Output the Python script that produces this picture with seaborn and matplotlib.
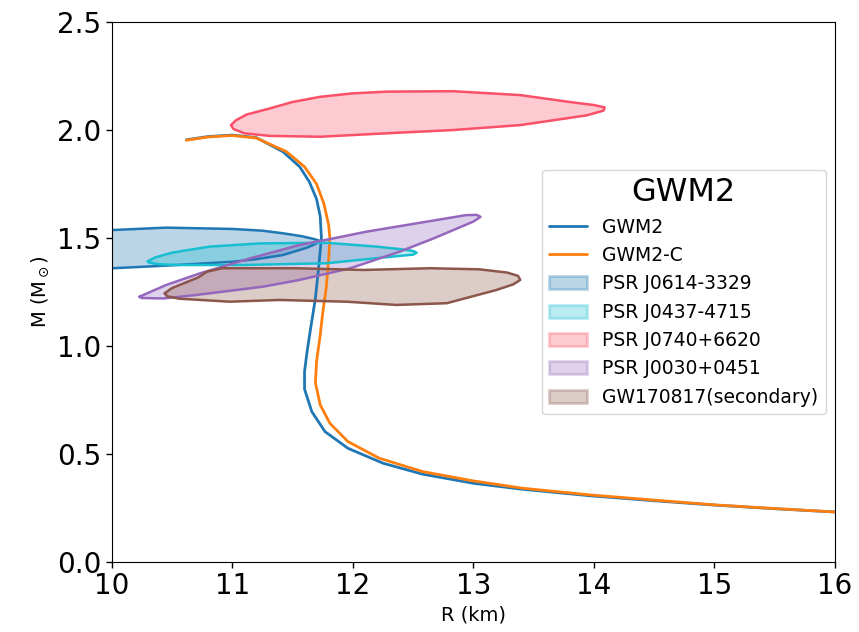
import numpy as np
import pandas as pd
import matplotlib
matplotlib.use('Agg')
import matplotlib.pyplot as plt
import matplotlib.patches as mpatches
import seaborn as sns

# mass-radius curves (R in km, M in solar masses)
gwm2_r = [10.62, 10.8, 11.0, 11.2, 11.42, 11.56, 11.64, 11.70, 11.73, 11.74, 11.72, 11.69,
          11.65, 11.62, 11.60, 11.60, 11.66, 11.77, 11.96, 12.25, 12.58, 13.0, 13.41, 13.97,
          14.5, 15.0, 15.5, 16.0]
gwm2_m = [1.955, 1.970, 1.977, 1.965, 1.900, 1.830, 1.760, 1.680, 1.600, 1.500, 1.380, 1.220,
          1.080, 0.970, 0.880, 0.800, 0.696, 0.603, 0.526, 0.457, 0.406, 0.364, 0.336, 0.306,
          0.283, 0.263, 0.246, 0.231]

gwm2c_r = [10.62, 10.8, 11.0, 11.2, 11.45, 11.60, 11.70, 11.76, 11.80, 11.81, 11.80, 11.78,
           11.75, 11.73, 11.70, 11.69, 11.73, 11.81, 11.96, 12.22, 12.58, 13.0, 13.41, 13.97,
           14.5, 15.0, 15.5, 16.0]
gwm2c_m = [1.953, 1.968, 1.975, 1.963, 1.900, 1.830, 1.750, 1.660, 1.560, 1.500, 1.400, 1.270,
           1.150, 1.050, 0.930, 0.830, 0.727, 0.642, 0.557, 0.480, 0.418, 0.375, 0.341, 0.310,
           0.286, 0.264, 0.247, 0.231]

# observational contours (outline vertices)
j0614_r = [9.8, 10.01, 10.45, 11.0, 11.25, 11.42, 11.58, 11.68, 11.73, 11.70, 11.62, 11.42,
           11.2, 11.0, 10.45, 10.01, 9.8]
j0614_m = [1.536, 1.537, 1.548, 1.542, 1.534, 1.522, 1.508, 1.495, 1.486, 1.475, 1.455, 1.421,
           1.402, 1.390, 1.372, 1.360, 1.358]

j0437_r = [10.30, 10.36, 10.50, 10.81, 11.23, 11.78, 12.20, 12.40, 12.50, 12.53, 12.50, 12.33,
           11.78, 11.09, 10.54, 10.38, 10.31]
j0437_m = [1.392, 1.410, 1.432, 1.460, 1.475, 1.478, 1.460, 1.448, 1.440, 1.432, 1.423, 1.414,
           1.383, 1.375, 1.375, 1.379, 1.386]

j0740_r = [10.99, 11.03, 11.12, 11.31, 11.50, 11.73, 12.00, 12.28, 12.83, 13.39, 13.80, 14.00,
           14.09, 14.08, 13.94, 13.39, 12.83, 12.28, 11.73, 11.31, 11.10, 11.01]
j0740_m = [2.023, 2.045, 2.072, 2.100, 2.130, 2.154, 2.170, 2.178, 2.180, 2.162, 2.130, 2.116,
           2.105, 2.090, 2.068, 2.023, 2.000, 1.985, 1.969, 1.973, 1.985, 2.005]

j0030_r = [10.23, 10.45, 10.73, 11.15, 11.56, 11.81, 12.11, 12.53, 12.94, 13.03, 13.06, 13.0,
           12.67, 12.39, 11.98, 11.56, 11.26, 10.70, 10.43, 10.25]
j0030_m = [1.228, 1.282, 1.336, 1.406, 1.468, 1.495, 1.529, 1.568, 1.606, 1.607, 1.598, 1.576,
           1.498, 1.437, 1.360, 1.306, 1.275, 1.236, 1.220, 1.222]

gw170817_r = [10.44, 10.50, 10.62, 10.72, 10.79, 10.92, 11.53, 12.09, 12.64, 13.05, 13.28, 13.37,
              13.39, 13.33, 13.19, 12.78, 12.36, 11.95, 11.39, 10.98, 10.56, 10.46]
gw170817_m = [1.244, 1.268, 1.295, 1.318, 1.344, 1.360, 1.360, 1.352, 1.360, 1.355, 1.340, 1.325,
              1.306, 1.285, 1.259, 1.198, 1.190, 1.205, 1.213, 1.205, 1.219, 1.230]

contours = [
    ('PSR J0614-3329', j0614_r, j0614_m, '#1f77b4'),
    ('PSR J0437-4715', j0437_r, j0437_m, '#17becf'),
    ('PSR J0740+6620', j0740_r, j0740_m, '#fa5068'),
    ('PSR J0030+0451', j0030_r, j0030_m, '#9467bd'),
    ('GW170817(secondary)', gw170817_r, gw170817_m, '#8c564b'),
]

sns.set_style('ticks')
plt.rcParams['font.family'] = ['DejaVu Sans']
for key in ['text.color', 'axes.labelcolor', 'xtick.color', 'ytick.color']:
    plt.rcParams[key] = 'black'

fig = plt.figure(figsize=(8.59, 6.32), dpi=100)
ax = fig.add_axes([0.130, 0.111, 0.842, 0.854])

curves = pd.concat([
    pd.DataFrame({'R': gwm2_r, 'M': gwm2_m, 'model': 'GWM2'}),
    pd.DataFrame({'R': gwm2c_r, 'M': gwm2c_m, 'model': 'GWM2-C'}),
])
sns.lineplot(data=curves, x='R', y='M', hue='model', units='model', estimator=None,
             sort=False, palette=['#1f77b4', '#ff7f0e'], linewidth=2, ax=ax, legend=False)

handles = [plt.Line2D([], [], color='#1f77b4', lw=2, label='GWM2'),
           plt.Line2D([], [], color='#ff7f0e', lw=2, label='GWM2-C')]
for name, r, m, c in contours:
    rr = list(r) + [r[0]]
    mm = list(m) + [m[0]]
    ax.fill(rr, mm, color=c, alpha=0.3, lw=0)
    ax.plot(rr, mm, color=c, lw=1.8, solid_joinstyle='round')
    handles.append(mpatches.Patch(facecolor=c, edgecolor=c, alpha=0.3, lw=2, label=name))

ax.set_xlim(10, 16)
ax.set_ylim(0, 2.5)
ax.set_xticks(range(10, 17))
ax.set_yticks(np.arange(0, 2.51, 0.5))
ax.tick_params(labelsize=20, length=4, width=1)
ax.set_xlabel('R (km)', fontsize=14)
ax.set_ylabel(r'M (M$_\odot$)', fontsize=14)
for s in ax.spines.values():
    s.set_color('black')

ax.legend(handles=handles, title='GWM2', title_fontsize=23, fontsize=13.5, loc='center right',
          frameon=True)

fig.savefig('out.png', dpi=100)
